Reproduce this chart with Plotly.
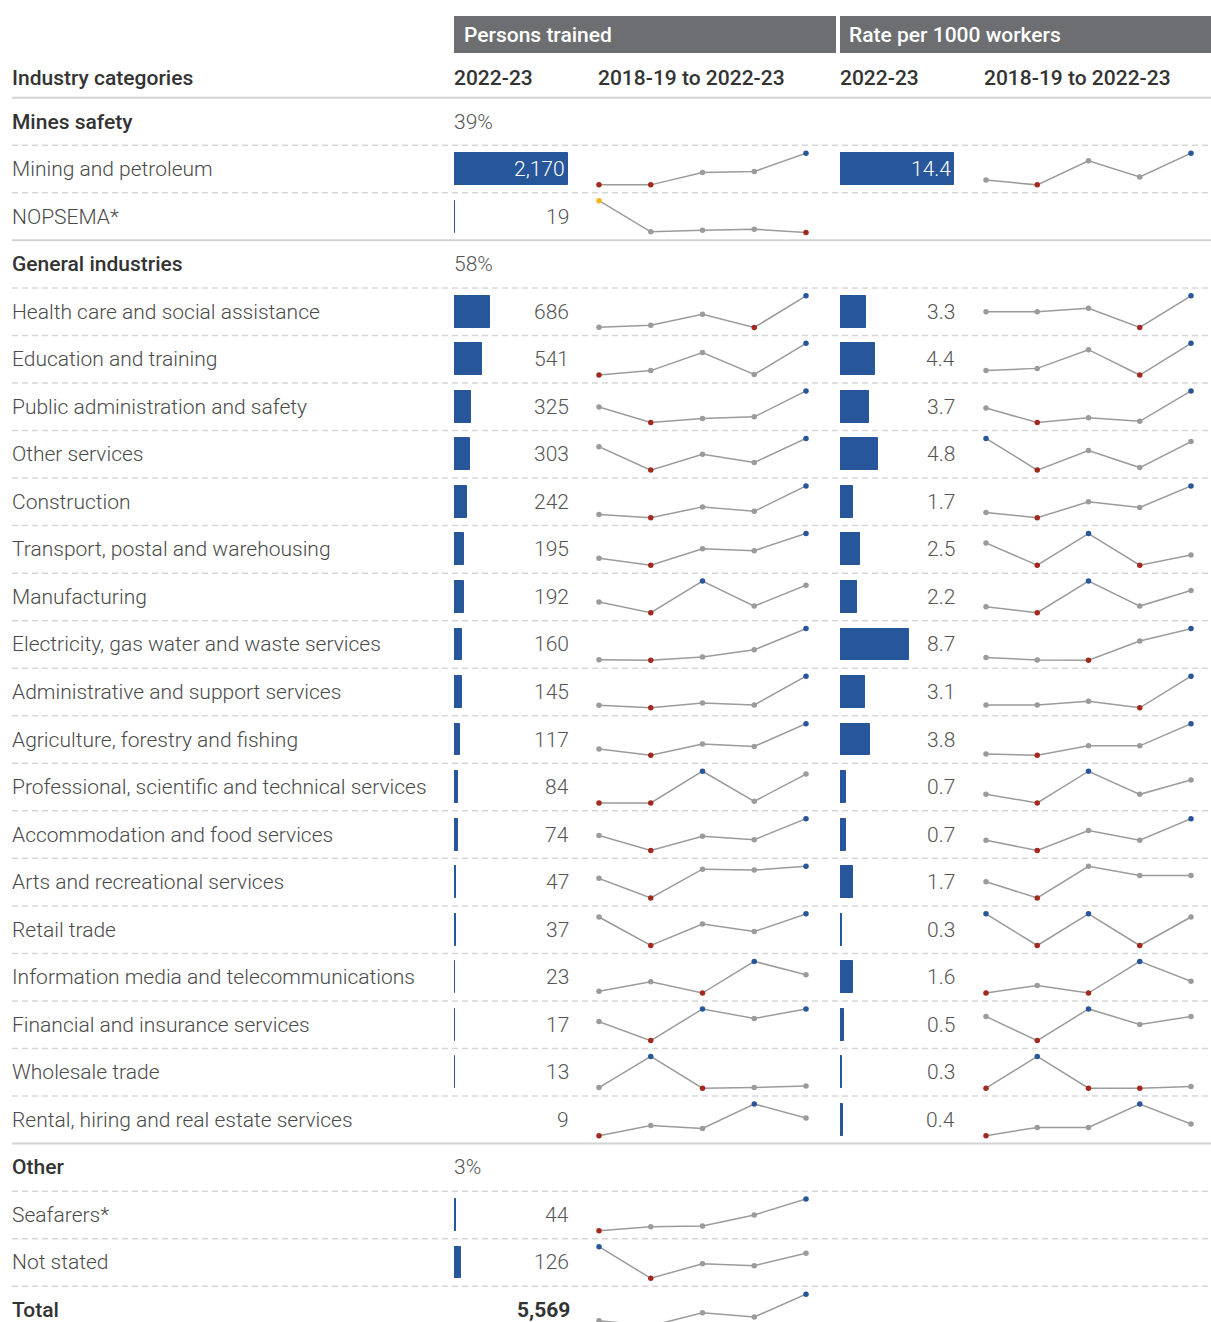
import plotly.graph_objects as go

W, H = 1211, 1322

# ---- data -------------------------------------------------------------
rows = [
    "Mines safety",
    "Mining and petroleum",
    "NOPSEMA*",
    "General industries",
    "Health care and social assistance",
    "Education and training",
    "Public administration and safety",
    "Other services",
    "Construction",
    "Transport, postal and warehousing",
    "Manufacturing",
    "Electricity, gas water and waste services",
    "Administrative and support services",
    "Agriculture, forestry and fishing",
    "Professional, scientific and technical services",
    "Accommodation and food services",
    "Arts and recreational services",
    "Retail trade",
    "Information media and telecommunications",
    "Financial and insurance services",
    "Wholesale trade",
    "Rental, hiring and real estate services",
    "Other",
    "Seafarers*",
    "Not stated",
    "Total",
]
group_rows = ["Mines safety", "General industries", "Other"]
group_share = ["39%", "58%", "3%"]
years = ["2018-19", "2019-20", "2020-21", "2021-22", "2022-23"]

persons_2223 = [None, 2170, 19, None, 686, 541, 325, 303, 242, 195, 192, 160,
                145, 117, 84, 74, 47, 37, 23, 17, 13, 9, None, 44, 126, 5569]
rate_2223 = [None, 14.4, None, None, 3.3, 4.4, 3.7, 4.8, 1.7, 2.5, 2.2, 8.7,
             3.1, 3.8, 0.7, 0.7, 1.7, 0.3, 1.6, 0.5, 0.3, 0.4, None, None, None, None]

# sparkline shapes, relative height within each row (0 = lowest, 100 = highest)
persons_trend = [
    None,
    [0, 0, 39, 42, 100],
    [100, 2, 7, 10, 0],
    None,
    [1, 7, 42, 0, 100],
    [0, 14, 71, 2, 100],
    [49, 0, 13, 18, 100],
    [74, 0, 50, 24, 100],
    [10, 0, 34, 20, 100],
    [22, 0, 52, 46, 100],
    [34, 0, 100, 21, 87],
    [2, 0, 10, 33, 100],
    [8, 0, 15, 9, 100],
    [20, 0, 36, 28, 100],
    [0, 0, 100, 5, 91],
    [47, 0, 45, 34, 100],
    [62, 0, 91, 88, 100],
    [90, 0, 68, 44, 100],
    [6, 36, 0, 100, 58],
    [60, 0, 100, 70, 100],
    [2, 100, 0, 2, 7],
    [0, 32, 23, 100, 56],
    None,
    [0, 13, 15, 50, 100],
    [100, 0, 46, 40, 79],
    [16, 0, 41, 28, 100],
]
rate_trend = [
    None,
    [15, 0, 76, 25, 100],
    None,
    None,
    [50, 50, 61, 0, 100],
    [14, 21, 80, 0, 100],
    [46, 0, 15, 4, 100],
    [100, 0, 62, 8, 90],
    [16, 0, 50, 32, 100],
    [70, 0, 100, 0, 32],
    [19, 0, 100, 21, 70],
    [9, 1, 0, 61, 100],
    [9, 9, 21, 0, 100],
    [4, 0, 30, 30, 100],
    [27, 0, 100, 27, 72],
    [32, 0, 63, 32, 100],
    [51, 0, 100, 71, 71],
    [100, 0, 100, 0, 90],
    [0, 24, 0, 100, 37],
    [76, 0, 100, 51, 76],
    [0, 100, 0, 0, 5],
    [0, 26, 26, 100, 37],
    None, None, None, None,
]

# ---- style --------------------------------------------------------------
BLUE = "#28569a"
RED = "#a3291f"
GREY = "#9b9b9b"
ORANGE = "#f5b51b"
HEAD_BG = "#6d6e71"
DARK = "#333333"
TEXT = "#4a4a4a"
NUM = "#555555"
FONT = "Roboto"
FS = 21

ROW0, PITCH = 121.5, 47.54   # pixel centre of first row, row height
HALF = 0.333                 # half height of a sparkline, in rows

# marker colour overrides seen in the picture
overrides = {
    ("NOPSEMA*", "persons"): {0: ORANGE},
    ("Arts and recreational services", "rate"): {2: GREY},
}


def px(x):
    return x / W


def py(y):
    return 1 - y / H


def point_colors(vals, key):
    hi, lo = max(vals), min(vals)
    cols = [BLUE if v == hi else RED if v == lo else GREY for v in vals]
    for i, c in overrides.get(key, {}).items():
        cols[i] = c
    return cols


fig = go.Figure()

# bars -------------------------------------------------------------------
for vals, xa in [(persons_2223, "x"), (rate_2223, "x3")]:
    idx = [i for i, v in enumerate(vals) if v is not None and rows[i] != "Total"]
    fig.add_trace(go.Bar(
        x=[vals[i] for i in idx], y=idx, orientation="h",
        xaxis=xa, yaxis="y", width=0.67,
        marker=dict(color=BLUE, line=dict(color=BLUE, width=1)),
        hoverinfo="skip",
    ))

# sparklines -------------------------------------------------------------
for trend, xa, name in [(persons_trend, "x2", "persons"), (rate_trend, "x4", "rate")]:
    for i, vals in enumerate(trend):
        if vals is None:
            continue
        fig.add_trace(go.Scatter(
            x=list(range(len(years))),
            y=[i + HALF - 2 * HALF * v / 100 for v in vals],
            xaxis=xa, yaxis="y", mode="lines+markers",
            line=dict(color=GREY, width=1.5),
            marker=dict(size=5.5, color=point_colors(vals, (rows[i], name))),
            cliponaxis=False, text=years, hoverinfo="text",
        ))

# text -------------------------------------------------------------------
ann = []


def label(x, y, text, anchor="left", color=TEXT, weight=300, size=FS, yref="y"):
    ann.append(dict(x=x, y=y, xref="paper", yref=yref, text=text, showarrow=False,
                    xanchor=anchor, yanchor="middle",
                    font=dict(family=FONT, size=size, color=color, weight=weight)))


max_persons = max(p for p in persons_2223[:-1] if p is not None)
max_rate = max(r for r in rate_2223 if r is not None)

for i, name in enumerate(rows):
    bold = name in group_rows or name == "Total"
    label(px(10), i, name, color=DARK if bold else TEXT, weight=500 if bold else 300)
    if name in group_rows:
        label(px(452), i, group_share[group_rows.index(name)], color=NUM)
    v = persons_2223[i]
    if v is not None:
        if name == "Total":
            label(px(572), i, f"{v:,}", anchor="right", color=DARK, weight=700)
        elif v == max_persons:
            label(px(567), i, f"{v:,}", anchor="right", color="white")
        else:
            label(px(571), i, f"{v:,}", anchor="right", color=NUM)
    r = rate_2223[i]
    if r is not None:
        if r == max_rate:
            label(px(953), i, f"{r:.1f}", anchor="right", color="white")
        else:
            label(px(957), i, f"{r:.1f}", anchor="right", color=NUM)

# headers
label(px(462), py(35), "Persons trained", color="white", weight=500, yref="paper")
label(px(847), py(35), "Rate per 1000 workers", color="white", weight=500, yref="paper")
for x, t in [(10, "Industry categories"), (452, "2022-23"), (596, "2018-19 to 2022-23"),
             (838, "2022-23"), (982, "2018-19 to 2022-23")]:
    label(px(x), py(78), t, color=DARK, weight=500, yref="paper")

# shapes ------------------------------------------------------------------
shapes = [
    dict(type="rect", xref="paper", yref="paper", x0=px(454), x1=px(836),
         y0=py(16), y1=py(53), fillcolor=HEAD_BG, line=dict(width=0), layer="below"),
    dict(type="rect", xref="paper", yref="paper", x0=px(840), x1=1,
         y0=py(16), y1=py(53), fillcolor=HEAD_BG, line=dict(width=0), layer="below"),
]
solid_after = [-1, 2, 21]
for i in range(-1, len(rows) - 1):
    solid = i in solid_after
    shapes.append(dict(
        type="line", xref="paper", yref="y", x0=px(12), x1=1, y0=i + 0.5, y1=i + 0.5,
        line=dict(color="#d3d3d3" if solid else "#d6d6d6", width=2 if solid else 1.5,
                  dash="solid" if solid else "6px,4px"),
        layer="below",
    ))

fig.update_layout(
    width=W, height=H,
    margin=dict(l=0, r=0, t=0, b=0),
    paper_bgcolor="white", plot_bgcolor="white",
    showlegend=False, bargap=0,
    annotations=ann, shapes=shapes,
    font=dict(family=FONT),
    xaxis=dict(domain=[px(454), px(568)], range=[0, 2170], visible=False, fixedrange=True),
    xaxis2=dict(domain=[px(599), px(806)], range=[0, 4], visible=False, fixedrange=True),
    xaxis3=dict(domain=[px(840), px(954)], range=[0, 14.4], visible=False, fixedrange=True),
    xaxis4=dict(domain=[px(986), px(1191)], range=[0, 4], visible=False, fixedrange=True),
    yaxis=dict(domain=[0, 1], range=[(H - ROW0) / PITCH, -ROW0 / PITCH],
               visible=False, fixedrange=True),
)

# figure fills the window exactly: drop the page margin and scrollbars
fig.write_html(
    "out.html",
    config={"displayModeBar": False},
    post_script="document.body.style.margin='0';document.body.style.overflow='hidden';",
)
